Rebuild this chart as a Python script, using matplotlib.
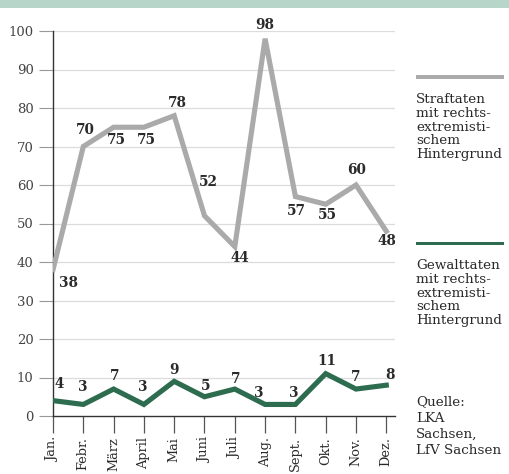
import matplotlib
matplotlib.use("Agg")
import matplotlib.pyplot as plt
from matplotlib.patches import Rectangle

months = ["Jan.", "Febr.", "März", "April", "Mai", "Juni", "Juli", "Aug.",
          "Sept.", "Okt.", "Nov.", "Dez."]
straftaten = [38, 70, 75, 75, 78, 52, 44, 98, 57, 55, 60, 48]
gewalttaten = [4, 3, 7, 3, 9, 5, 7, 3, 3, 11, 7, 8]
y_ticks = [0, 10, 20, 30, 40, 50, 60, 70, 80, 90, 100]

GRAY = "#aaaaaa"
GREEN = "#2e6c50"
TEXT = "#2a2a2a"
plt.rcParams["font.family"] = "DejaVu Serif"

W, H = 510, 474
fig = plt.figure(figsize=(W / 100, H / 100), dpi=100)
fig.patch.set_facecolor("white")

# top colour band
fig.patches.append(Rectangle((0, 1 - 8 / H), 1, 8 / H, transform=fig.transFigure,
                             facecolor="#b8d5c9", edgecolor="none"))

x0, x1 = 53, 395
y_top, y_bot = 31, 416
ax = fig.add_axes([x0 / W, (H - y_bot) / H, (x1 - x0) / W, (y_bot - y_top) / H])
ax.set_xlim(0, (x1 - x0) / 30.3)
ax.set_ylim(0, 100)

for s in ["top", "right"]:
    ax.spines[s].set_visible(False)
ax.spines["left"].set_color("#333333")
ax.spines["left"].set_linewidth(1.0)
ax.spines["bottom"].set_color("#333333")
ax.spines["bottom"].set_linewidth(1.0)

for v in y_ticks[1:]:
    ax.axhline(v, color="#dcdcdc", lw=0.9, zorder=0)

ax.set_yticks(y_ticks)
ax.set_yticklabels([str(v) for v in y_ticks], fontsize=9.5, color="#444444")
ax.tick_params(axis="y", length=10, width=0.8, color="#999999", pad=4)

xs = list(range(len(months)))
ax.set_xticks(xs)
ax.set_xticklabels(months, rotation=90, fontsize=9.3, color=TEXT, va="top")
ax.tick_params(axis="x", length=12, width=0.9, color="#555555", pad=3)

ax.plot(xs, straftaten, color=GRAY, lw=3.7, solid_joinstyle="miter", zorder=3)
ax.plot(xs, gewalttaten, color=GREEN, lw=3.7, solid_joinstyle="miter", zorder=3)

# value labels (offsets in points relative to each point)
gray_off = [(11, -9.5), (1.5, 12), (2, -9.5), (2, -9.5), (2, 9.5), (2.5, 24.5),
            (3.5, -8), (0, 10), (0.5, -10.5), (1.5, -8), (0.5, 11), (0.5, -7)]
green_off = [(4.5, 12), (-0.7, 12.5), (1, 9.5), (-0.7, 12.5), (0, 8.5), (1, 8),
             (0.7, 7.5), (-4.5, 8.5), (-1.5, 8.5), (0.5, 9), (0, 8.5), (2.5, 7.5)]
for i, (v, off) in enumerate(zip(straftaten, gray_off)):
    ax.annotate(str(v), (i, v), xytext=off, textcoords="offset points",
                ha="center", va="center", fontsize=9.8, fontweight="bold",
                color=TEXT, annotation_clip=False, zorder=4)
for i, (v, off) in enumerate(zip(gewalttaten, green_off)):
    ax.annotate(str(v), (i, v), xytext=off, textcoords="offset points",
                ha="center", va="center", fontsize=9.8, fontweight="bold",
                color=TEXT, annotation_clip=False, zorder=4)

# legend on the right
def legend_entry(y_bar, color, text):
    fig.patches.append(Rectangle((416 / W, 1 - (y_bar + 1.5) / H), 88 / W, 3 / H,
                                 transform=fig.transFigure, facecolor=color,
                                 edgecolor="none"))
    fig.text(416 / W, 1 - (y_bar + 16) / H, text, ha="left", va="top",
             fontsize=9.7, color=TEXT, linespacing=1.08)

legend_entry(77, GRAY, "Straftaten\nmit rechts-\nextremisti-\nschem\nHintergrund")
legend_entry(243, GREEN, "Gewalttaten\nmit rechts-\nextremisti-\nschem\nHintergrund")

fig.text(416 / W, 1 - 395 / H, "Quelle:\nLKA\nSachsen,\nLfV Sachsen", ha="left",
         va="top", fontsize=9.7, color=TEXT, linespacing=1.35)

fig.savefig("out.png", dpi=100)
